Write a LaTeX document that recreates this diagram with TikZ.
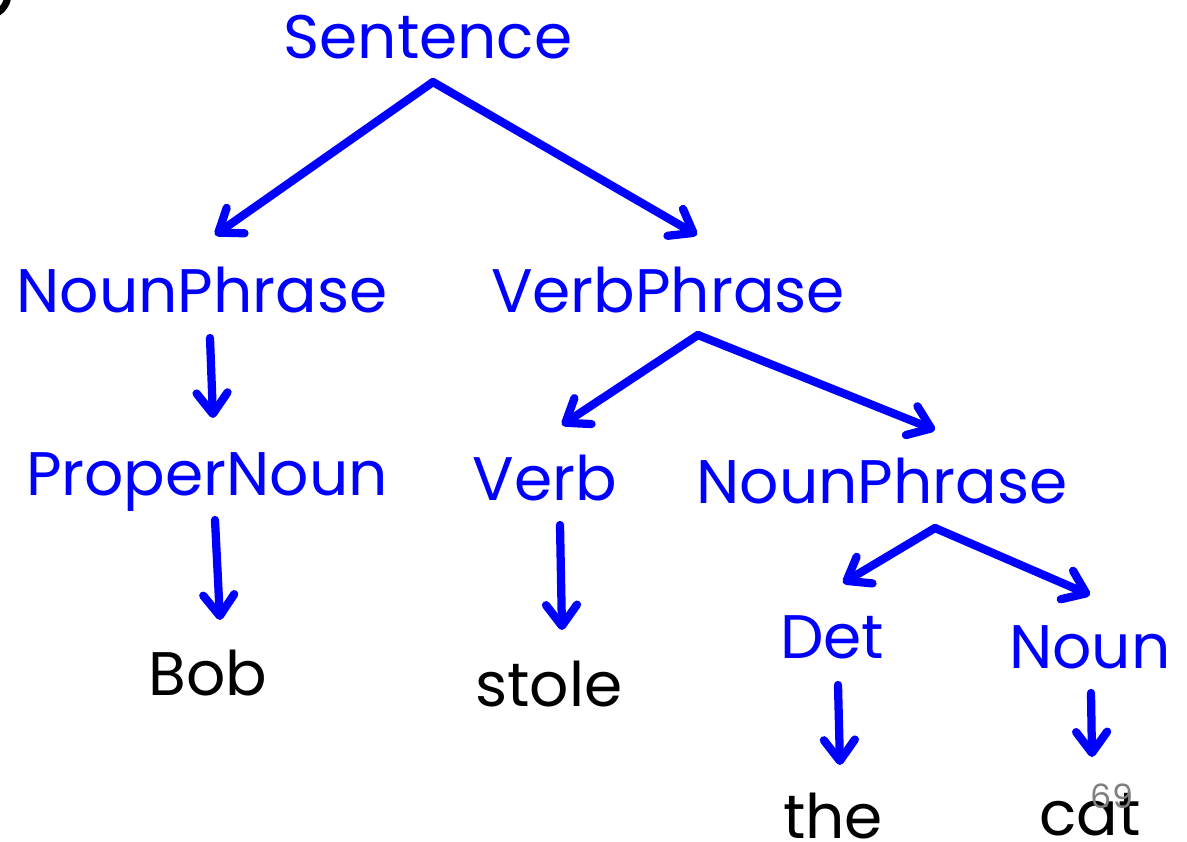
\documentclass[tikz,border=0pt]{standalone}
\usepackage{fontspec}
\setmainfont{Poppins}
\usetikzlibrary{arrows.meta,calc}

\begin{document}
\begin{tikzpicture}[x=0.02cm, y=-0.02cm,
  every node/.style={font=\fontsize{35}{40}\selectfont, inner sep=0pt, anchor=base},
  cat/.style={text=blue},
  word/.style={text=black},
  arr/.style={draw=blue, line width=4.7pt, line cap=round,
    -{Straight Barb[length=0.42cm, width=0.62cm, round]}}]
\useasboundingbox (0,0) rectangle (1187,842);
\begin{scope}
\clip (0,0) rectangle (1187,842);
\draw[line width=4pt] (-14,-6) circle (22);
\end{scope}

% categories
\node[cat] (s) at (428,58) {Sentence};
\node[cat] (np) at (202,312) {NounPhrase};
\node[cat] (vp) at (668,312) {VerbPhrase};
\node[cat] (pn) at (207,495) {ProperNoun};
\node[cat] (v) at (545,500) {Verb};
\node[cat] (np2) at (882,503) {NounPhrase};
\node[cat] (det) at (832,658) {Det};
\node[cat] (n) at (1090,668) {Noun};
% words
\node[word] (bob) at (208,695) {Bob};
\node[word] (stole) at (549,706) {stole};
\node[word] (the) at (833,838) {the};
\node[word] (catw) at (1090,835) {cat};
\node[text=gray, font=\fontsize{19}{22}\selectfont] (pg) at (1112,808) {69};

% edges
\draw[arr] ($(s.base)+(5,24)$) -- ($(np.base)+(13,-77)$);
\draw[arr] ($(s.base)+(5,24)$) -- ($(vp.base)+(29,-77)$);
\draw[arr] ($(np.base)+(8,26)$) -- ($(pn.base)+(6,-77)$);
\draw[arr] ($(pn.base)+(8,25)$) -- ($(bob.base)+(12,-75)$);
\draw[arr] ($(vp.base)+(30,23)$) -- ($(v.base)+(17,-75)$);
\draw[arr] ($(vp.base)+(30,23)$) -- ($(np2.base)+(53,-73)$);
\draw[arr] ($(v.base)+(15,25)$) -- ($(stole.base)+(13,-76)$);
\draw[arr] ($(np2.base)+(53,25)$) -- ($(det.base)+(11,-75)$);
\draw[arr] ($(np2.base)+(53,25)$) -- ($(n.base)+(0,-73)$);
\draw[arr] ($(det.base)+(6,27)$) -- ($(the.base)+(7,-73)$);
\draw[arr] ($(n.base)+(1,25)$) -- ($(catw.base)+(2,-78)$);
\end{tikzpicture}
\end{document}
